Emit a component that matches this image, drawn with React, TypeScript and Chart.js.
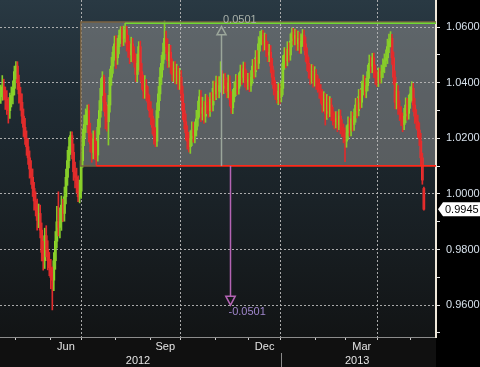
import React, { useEffect, useRef } from "react";
import { Chart, registerables } from "chart.js";

Chart.register(...registerables);

// ---- Daily OHLC data (one entry per trading day) ----
const opens = [
  1.0350,1.0365,1.0385,1.0360,1.0340,1.0325,1.0300,1.0335,1.0355,1.0380,
  1.0440,1.0460,1.0400,1.0360,1.0330,1.0280,1.0240,1.0200,1.0170,1.0130,
  1.0090,1.0060,1.0020,0.9975,0.9950,0.9905,0.9930,0.9870,0.9790,0.9760,
  0.9850,0.9800,0.9760,0.9735,0.9700,0.9690,0.9760,0.9830,0.9900,0.9880,
  0.9900,0.9960,0.9930,0.9990,1.0060,1.0120,1.0170,1.0210,1.0150,1.0080,
  1.0060,1.0040,0.9990,1.0010,1.0120,1.0200,1.0250,1.0280,1.0300,1.0220,
  1.0180,1.0150,1.0200,1.0160,1.0140,1.0240,1.0300,1.0380,1.0420,1.0330,
  1.0280,1.0260,1.0320,1.0420,1.0460,1.0510,1.0540,1.0490,1.0530,1.0570,
  1.0590,1.0560,1.0580,1.0590,1.0540,1.0520,1.0500,1.0540,1.0500,1.0480,
  1.0430,1.0470,1.0530,1.0440,1.0400,1.0370,1.0390,1.0360,1.0330,1.0300,
  1.0280,1.0240,1.0210,1.0190,1.0300,1.0360,1.0420,1.0470,1.0510,1.0560,
  1.0530,1.0480,1.0510,1.0460,1.0430,1.0450,1.0420,1.0440,1.0400,1.0420,
  1.0360,1.0300,1.0260,1.0220,1.0190,1.0170,1.0200,1.0230,1.0210,1.0230,
  1.0270,1.0300,1.0350,1.0290,1.0310,1.0280,1.0330,1.0320,1.0300,1.0340,
  1.0320,1.0380,1.0360,1.0400,1.0370,1.0390,1.0420,1.0380,1.0410,1.0390,
  1.0370,1.0400,1.0340,1.0310,1.0350,1.0380,1.0400,1.0380,1.0410,1.0440,
  1.0420,1.0450,1.0420,1.0400,1.0410,1.0390,1.0420,1.0460,1.0440,1.0490,
  1.0470,1.0540,1.0560,1.0570,1.0540,1.0550,1.0520,1.0500,1.0510,1.0460,
  1.0420,1.0380,1.0370,1.0340,1.0370,1.0350,1.0380,1.0470,1.0500,1.0480,
  1.0520,1.0500,1.0550,1.0580,1.0560,1.0570,1.0540,1.0560,1.0530,1.0550,
  1.0570,1.0540,1.0500,1.0470,1.0440,1.0420,1.0440,1.0410,1.0430,1.0400,
  1.0390,1.0370,1.0350,1.0320,1.0340,1.0290,1.0330,1.0300,1.0320,1.0290,
  1.0270,1.0260,1.0270,1.0250,1.0280,1.0240,1.0230,1.0210,1.0190,1.0220,
  1.0250,1.0230,1.0270,1.0250,1.0280,1.0320,1.0300,1.0350,1.0330,1.0380,
  1.0400,1.0370,1.0390,1.0440,1.0470,1.0460,1.0490,1.0440,1.0420,1.0410,
  1.0430,1.0420,1.0440,1.0460,1.0480,1.0490,1.0530,1.0550,1.0560,1.0490,
  1.0420,1.0330,1.0370,1.0310,1.0290,1.0270,1.0250,1.0280,1.0320,1.0290,
  1.0330,1.0360,1.0380,1.0320,1.0280,1.0260,1.0230,1.0190,1.0130,1.0020,
];

const highs = [
  1.0392,1.0426,1.0413,1.0385,1.0372,1.0347,1.0363,1.0385,1.0407,1.0460,
  1.0476,1.0476,1.0428,1.0384,1.0360,1.0306,1.0272,1.0227,1.0198,1.0155,
  1.0120,1.0090,1.0042,1.0008,0.9982,0.9964,0.9960,0.9896,0.9830,0.9877,
  0.9886,0.9832,0.9790,0.9765,0.9738,0.9789,0.9865,0.9956,1.0008,0.9950,
  0.9993,0.9982,1.0025,1.0090,1.0157,1.0204,1.0224,1.0224,1.0180,1.0115,
  1.0093,1.0065,1.0050,1.0147,1.0233,1.0284,1.0306,1.0320,1.0322,1.0255,
  1.0215,1.0227,1.0228,1.0190,1.0269,1.0336,1.0415,1.0440,1.0428,1.0362,
  1.0318,1.0355,1.0449,1.0492,1.0530,1.0568,1.0570,1.0560,1.0590,1.0602,
  1.0602,1.0604,1.0614,1.0603,1.0571,1.0550,1.0564,1.0560,1.0530,1.0505,
  1.0503,1.0548,1.0550,1.0470,1.0428,1.0426,1.0412,1.0386,1.0356,1.0332,
  1.0306,1.0270,1.0239,1.0328,1.0387,1.0455,1.0499,1.0543,1.0622,1.0586,
  1.0558,1.0538,1.0535,1.0486,1.0476,1.0476,1.0467,1.0460,1.0452,1.0444,
  1.0388,1.0326,1.0288,1.0246,1.0222,1.0227,1.0260,1.0258,1.0260,1.0301,
  1.0334,1.0374,1.0372,1.0348,1.0333,1.0359,1.0356,1.0348,1.0364,1.0366,
  1.0406,1.0406,1.0424,1.0422,1.0422,1.0476,1.0443,1.0432,1.0434,1.0418,
  1.0428,1.0425,1.0368,1.0376,1.0404,1.0430,1.0426,1.0436,1.0464,1.0464,
  1.0475,1.0473,1.0444,1.0434,1.0436,1.0444,1.0484,1.0484,1.0516,1.0516,
  1.0566,1.0585,1.0590,1.0588,1.0579,1.0574,1.0548,1.0538,1.0534,1.0488,
  1.0446,1.0408,1.0394,1.0400,1.0396,1.0406,1.0498,1.0527,1.0524,1.0548,
  1.0544,1.0576,1.0598,1.0596,1.0593,1.0590,1.0586,1.0582,1.0576,1.0592,
  1.0590,1.0564,1.0526,1.0492,1.0466,1.0466,1.0464,1.0458,1.0448,1.0426,
  1.0414,1.0394,1.0376,1.0368,1.0362,1.0358,1.0352,1.0350,1.0344,1.0312,
  1.0296,1.0296,1.0296,1.0304,1.0302,1.0268,1.0252,1.0238,1.0246,1.0278,
  1.0274,1.0296,1.0294,1.0306,1.0344,1.0344,1.0376,1.0374,1.0406,1.0428,
  1.0424,1.0416,1.0464,1.0500,1.0494,1.0506,1.0507,1.0464,1.0444,1.0454,
  1.0452,1.0464,1.0486,1.0504,1.0519,1.0557,1.0575,1.0584,1.0574,1.0511,
  1.0443,1.0398,1.0390,1.0336,1.0314,1.0292,1.0308,1.0346,1.0344,1.0356,
  1.0386,1.0404,1.0398,1.0344,1.0304,1.0284,1.0256,1.0218,1.0147,1.0025,
];

const lows = [
  1.0326,1.0337,1.0338,1.0304,1.0286,1.0255,1.0272,1.0313,1.0324,1.0356,
  1.0414,1.0376,1.0327,1.0301,1.0254,1.0207,1.0178,1.0139,1.0106,1.0057,
  1.0034,0.9991,0.9942,0.9921,0.9870,0.9879,0.9842,0.9759,0.9726,0.9732,
  0.9774,0.9727,0.9706,0.9659,0.9583,0.9652,0.9729,0.9806,0.9849,0.9842,
  0.9869,0.9901,0.9902,0.9964,1.0031,1.0094,1.0142,1.0126,1.0049,1.0022,
  1.0004,0.9972,0.9968,0.9984,1.0096,1.0174,1.0221,1.0249,1.0187,1.0151,
  1.0114,1.0126,1.0124,1.0101,1.0118,1.0214,1.0276,1.0354,1.0297,1.0234,
  1.0226,1.0176,1.0294,1.0391,1.0434,1.0481,1.0452,1.0466,1.0504,1.0541,
  1.0531,1.0534,1.0546,1.0514,1.0491,1.0469,1.0476,1.0474,1.0456,1.0404,
  1.0404,1.0446,1.0412,1.0376,1.0344,1.0344,1.0336,1.0304,1.0276,1.0249,
  1.0216,1.0179,1.0170,1.0171,1.0274,1.0336,1.0394,1.0446,1.0484,1.0506,
  1.0454,1.0456,1.0434,1.0406,1.0404,1.0396,1.0396,1.0376,1.0376,1.0336,
  1.0268,1.0234,1.0194,1.0161,1.0151,1.0146,1.0174,1.0186,1.0184,1.0208,
  1.0244,1.0276,1.0260,1.0266,1.0254,1.0258,1.0289,1.0276,1.0279,1.0296,
  1.0299,1.0336,1.0339,1.0346,1.0346,1.0366,1.0356,1.0361,1.0364,1.0346,
  1.0346,1.0316,1.0290,1.0289,1.0331,1.0354,1.0358,1.0359,1.0388,1.0394,
  1.0401,1.0384,1.0374,1.0376,1.0368,1.0369,1.0398,1.0416,1.0421,1.0446,
  1.0451,1.0514,1.0536,1.0514,1.0518,1.0494,1.0476,1.0476,1.0436,1.0394,
  1.0356,1.0340,1.0327,1.0321,1.0324,1.0331,1.0356,1.0448,1.0454,1.0461,
  1.0474,1.0481,1.0529,1.0536,1.0536,1.0516,1.0516,1.0506,1.0506,1.0531,
  1.0516,1.0476,1.0444,1.0416,1.0394,1.0398,1.0384,1.0388,1.0376,1.0366,
  1.0344,1.0326,1.0294,1.0298,1.0248,1.0268,1.0274,1.0278,1.0264,1.0248,
  1.0234,1.0238,1.0224,1.0231,1.0216,1.0206,1.0184,1.0116,1.0168,1.0196,
  1.0208,1.0209,1.0226,1.0229,1.0258,1.0274,1.0281,1.0306,1.0311,1.0356,
  1.0348,1.0346,1.0371,1.0416,1.0436,1.0436,1.0418,1.0394,1.0386,1.0386,
  1.0398,1.0399,1.0418,1.0436,1.0458,1.0469,1.0508,1.0529,1.0466,1.0394,
  1.0306,1.0306,1.0286,1.0264,1.0246,1.0224,1.0231,1.0256,1.0266,1.0269,
  1.0308,1.0336,1.0296,1.0254,1.0236,1.0204,1.0174,1.0104,1.0035,0.9942,
];

const closes = [
  1.0365,1.0385,1.0360,1.0340,1.0325,1.0300,1.0335,1.0355,1.0380,1.0440,
  1.0460,1.0400,1.0360,1.0330,1.0280,1.0240,1.0200,1.0170,1.0130,1.0090,
  1.0060,1.0020,0.9975,0.9950,0.9905,0.9930,0.9870,0.9790,0.9760,0.9850,
  0.9800,0.9760,0.9735,0.9700,0.9690,0.9760,0.9830,0.9900,0.9880,0.9900,
  0.9960,0.9930,0.9990,1.0060,1.0120,1.0170,1.0210,1.0150,1.0080,1.0060,
  1.0040,0.9990,1.0010,1.0120,1.0200,1.0250,1.0280,1.0300,1.0220,1.0180,
  1.0150,1.0200,1.0160,1.0140,1.0240,1.0300,1.0380,1.0420,1.0330,1.0280,
  1.0260,1.0320,1.0420,1.0460,1.0510,1.0540,1.0490,1.0530,1.0570,1.0590,
  1.0560,1.0580,1.0590,1.0540,1.0520,1.0500,1.0540,1.0500,1.0480,1.0430,
  1.0470,1.0530,1.0440,1.0400,1.0370,1.0390,1.0360,1.0330,1.0300,1.0280,
  1.0240,1.0210,1.0190,1.0300,1.0360,1.0420,1.0470,1.0510,1.0560,1.0530,
  1.0480,1.0510,1.0460,1.0430,1.0450,1.0420,1.0440,1.0400,1.0420,1.0360,
  1.0300,1.0260,1.0220,1.0190,1.0170,1.0200,1.0230,1.0210,1.0230,1.0270,
  1.0300,1.0350,1.0290,1.0310,1.0280,1.0330,1.0320,1.0300,1.0340,1.0320,
  1.0380,1.0360,1.0400,1.0370,1.0390,1.0420,1.0380,1.0410,1.0390,1.0370,
  1.0400,1.0340,1.0310,1.0350,1.0380,1.0400,1.0380,1.0410,1.0440,1.0420,
  1.0450,1.0420,1.0400,1.0410,1.0390,1.0420,1.0460,1.0440,1.0490,1.0470,
  1.0540,1.0560,1.0570,1.0540,1.0550,1.0520,1.0500,1.0510,1.0460,1.0420,
  1.0380,1.0370,1.0340,1.0370,1.0350,1.0380,1.0470,1.0500,1.0480,1.0520,
  1.0500,1.0550,1.0580,1.0560,1.0570,1.0540,1.0560,1.0530,1.0550,1.0570,
  1.0540,1.0500,1.0470,1.0440,1.0420,1.0440,1.0410,1.0430,1.0400,1.0390,
  1.0370,1.0350,1.0320,1.0340,1.0290,1.0330,1.0300,1.0320,1.0290,1.0270,
  1.0260,1.0270,1.0250,1.0280,1.0240,1.0230,1.0210,1.0190,1.0220,1.0250,
  1.0230,1.0270,1.0250,1.0280,1.0320,1.0300,1.0350,1.0330,1.0380,1.0400,
  1.0370,1.0390,1.0440,1.0470,1.0460,1.0490,1.0440,1.0420,1.0410,1.0430,
  1.0420,1.0440,1.0460,1.0480,1.0490,1.0530,1.0550,1.0560,1.0490,1.0420,
  1.0330,1.0370,1.0310,1.0290,1.0270,1.0250,1.0280,1.0320,1.0290,1.0330,
  1.0360,1.0380,1.0320,1.0280,1.0260,1.0230,1.0200,1.0130,1.0050,0.9945,
];

// ---- Axis definitions (trading-day index space) ----
const monthBoundaries = [9.5, 32.5, 53.5, 75.5, 98.5, 118.5, 141.5, 163.5, 184.5, 207.5, 227.5, 248.5, 270.5];
const quarterBoundaries = [53.5, 118.5, 184.5, 248.5];
const monthLabels = ["Jun", "Sep", "Dec", "Mar"];
const monthLabelPos = [43, 108.5, 174, 238];
const yearLabels = ["2012", "2013"];
const yearLabelPos = [90.5, 235];
const yearBoundary = 184.5;
const yMajorTicks = [0.96, 0.98, 1.0, 1.02, 1.04, 1.06];
const yMinorTicks = [0.95, 0.97, 0.99, 1.01, 1.03, 1.05];

// ---- Annotations ----
const supportIndex = 63;
const supportLevel = 1.0101;
const resistanceIndex = 82;
const resistanceLevel = 1.0614;
const boxTop = 1.0619;
const boxStartIndex = 52.8;
const measureUpIndex = 145.4;
const measureUpTarget = 1.0602;
const measureUpLabel = "0.0501";
const measureDownIndex = 151;
const measureDownTarget = 0.96;
const measureDownLabel = "-0.0501";
const lastPrice = 0.9945;
const lastPriceLabel = "0.9945";

const GREEN = "#9be82c";
const RED = "#ff3030";
const GREEN_WICK = "#86cc2a";
const RED_WICK = "#e02c2c";
const GRID = "rgba(185,185,185,0.9)";
const NONE = "rgba(0,0,0,0)";
const FONT = "'Liberation Sans', Arial, sans-serif";

const decorPlugin = {
  id: "decor",
  beforeDraw(chart: any) {
    const { ctx, chartArea: a, width, height } = chart;
    const xs = chart.scales.x;
    const ys = chart.scales.y;
    ctx.save();
    ctx.fillStyle = "#000000";
    ctx.fillRect(a.right, 0, width - a.right, height);
    ctx.fillStyle = "#101010";
    ctx.fillRect(0, a.bottom, a.right, height - a.bottom);
    const g = ctx.createLinearGradient(0, a.top, 0, a.bottom);
    g.addColorStop(0, "#293943");
    g.addColorStop(0.3, "#1f2b33");
    g.addColorStop(0.6, "#1a2227");
    g.addColorStop(1, "#121415");
    ctx.fillStyle = g;
    ctx.fillRect(a.left, a.top, a.right - a.left, a.bottom - a.top);
    const bx = xs.getPixelForValue(boxStartIndex);
    const bt = ys.getPixelForValue(boxTop);
    const bb = ys.getPixelForValue(supportLevel);
    ctx.fillStyle = "rgba(140,140,140,0.55)";
    ctx.fillRect(bx, bt, a.right - bx, bb - bt);
    ctx.restore();
  },
  afterDatasetsDraw(chart: any) {
    const { ctx, chartArea: a } = chart;
    const xs = chart.scales.x;
    const ys = chart.scales.y;
    const bx = xs.getPixelForValue(boxStartIndex);
    const bt = ys.getPixelForValue(boxTop);
    const bb = ys.getPixelForValue(supportLevel);
    const sx = xs.getPixelForValue(supportIndex);
    const rx = xs.getPixelForValue(resistanceIndex);
    const ry = ys.getPixelForValue(resistanceLevel);
    ctx.save();
    ctx.strokeStyle = "#7a6240";
    ctx.lineWidth = 1.5;
    ctx.beginPath();
    ctx.moveTo(a.right, bt);
    ctx.lineTo(bx, bt);
    ctx.lineTo(bx, bb);
    ctx.lineTo(sx, bb);
    ctx.stroke();
    ctx.strokeStyle = "#72d832";
    ctx.lineWidth = 1.5;
    ctx.beginPath();
    ctx.moveTo(rx, ry);
    ctx.lineTo(a.right, ry);
    ctx.stroke();
    ctx.strokeStyle = "#ff2a1a";
    ctx.lineWidth = 1.8;
    ctx.beginPath();
    ctx.moveTo(sx, bb);
    ctx.lineTo(a.right, bb);
    ctx.stroke();

    const ux = Math.round(xs.getPixelForValue(measureUpIndex)) + 0.5;
    const uy = ys.getPixelForValue(measureUpTarget);
    ctx.strokeStyle = "#9ba69b";
    ctx.lineWidth = 1.5;
    ctx.beginPath();
    ctx.moveTo(ux, bb);
    ctx.lineTo(ux, uy + 8);
    ctx.stroke();
    ctx.beginPath();
    ctx.moveTo(ux, uy);
    ctx.lineTo(ux - 4.5, uy + 8);
    ctx.lineTo(ux + 4.5, uy + 8);
    ctx.closePath();
    ctx.stroke();
    ctx.font = `11px ${FONT}`;
    ctx.fillStyle = "#a8b0a8";
    ctx.textAlign = "left";
    ctx.textBaseline = "middle";
    ctx.fillText(measureUpLabel, ux + 1.5, uy - 7);

    const dx = Math.round(xs.getPixelForValue(measureDownIndex)) + 0.5;
    const dy = ys.getPixelForValue(measureDownTarget);
    ctx.strokeStyle = "#b464b4";
    ctx.lineWidth = 1.5;
    ctx.beginPath();
    ctx.moveTo(dx, bb);
    ctx.lineTo(dx, dy - 9);
    ctx.stroke();
    ctx.beginPath();
    ctx.moveTo(dx, dy);
    ctx.lineTo(dx - 4.7, dy - 9);
    ctx.lineTo(dx + 4.7, dy - 9);
    ctx.closePath();
    ctx.stroke();
    ctx.fillStyle = "#a086cc";
    ctx.fillText(measureDownLabel, dx - 2, dy + 7);
    ctx.restore();
  },
  afterDraw(chart: any) {
    const { ctx, chartArea: a, width, height } = chart;
    const xs = chart.scales.x;
    const ys = chart.scales.y;
    ctx.save();
    const sepX = Math.round(xs.getPixelForValue(yearBoundary)) + 0.5;
    ctx.strokeStyle = "#8a8a8a";
    ctx.lineWidth = 1;
    ctx.beginPath();
    ctx.moveTo(sepX, a.bottom + 16);
    ctx.lineTo(sepX, height);
    ctx.stroke();
    const py = ys.getPixelForValue(lastPrice);
    const lx = a.right + 2;
    ctx.fillStyle = "#ffffff";
    ctx.beginPath();
    ctx.moveTo(lx, py);
    ctx.lineTo(lx + 5, py - 7);
    ctx.lineTo(width, py - 7);
    ctx.lineTo(width, py + 7);
    ctx.lineTo(lx + 5, py + 7);
    ctx.closePath();
    ctx.fill();
    ctx.fillStyle = "#000000";
    ctx.font = `11px ${FONT}`;
    ctx.textAlign = "left";
    ctx.textBaseline = "middle";
    ctx.fillText(lastPriceLabel, lx + 7, py + 0.5);
    ctx.restore();
  },
};

export default function App() {
  const canvasRef = useRef<HTMLCanvasElement | null>(null);

  useEffect(() => {
    const canvas = canvasRef.current;
    if (!canvas) return;
    const idx = closes.map((_, i) => i);
    const up = idx.map((i) => closes[i] >= opens[i]);
    const bodyColors = up.map((u) => (u ? GREEN : RED));
    const wickColors = up.map((u) => (u ? GREEN_WICK : RED_WICK));
    const allYTicks = [...yMinorTicks, ...yMajorTicks].sort((a, b) => a - b);
    const xTicks = [...monthBoundaries, ...monthLabelPos].sort((a, b) => a - b);
    const xGridColors = xTicks.map((v) => (quarterBoundaries.includes(v) ? GRID : NONE));
    const xTickColors = xTicks.map((v) => (monthBoundaries.includes(v) ? "#cccccc" : NONE));
    const yGridColors = allYTicks.map((v) => (yMajorTicks.includes(v) ? GRID : NONE));

    const chart = new Chart(canvas, {
      type: "bar",
      data: {
        datasets: [
          {
            label: "wicks",
            data: idx.map((i) => ({ x: i, y: [lows[i], highs[i]] })) as any,
            backgroundColor: wickColors,
            barThickness: 1,
            grouped: false,
            borderWidth: 0,
            minBarLength: 1,
          },
          {
            label: "bodies",
            data: idx.map((i) => ({ x: i, y: [opens[i], closes[i]] })) as any,
            backgroundColor: bodyColors,
            barThickness: 2,
            grouped: false,
            borderWidth: 0,
            minBarLength: 1,
          },
        ],
      },
      options: {
        animation: false,
        responsive: false,
        maintainAspectRatio: false,
        devicePixelRatio: 1,
        events: [],
        layout: { padding: 0, autoPadding: false },
        plugins: { legend: { display: false }, tooltip: { enabled: false }, title: { display: false } },
        scales: {
          x: {
            type: "linear",
            position: "bottom",
            min: -0.5,
            max: 287,
            offset: false,
            weight: 0,
            afterBuildTicks: (s: any) => {
              s.ticks = xTicks.map((v) => ({ value: v }));
            },
            afterFit: (s: any) => {
              s.height = 15;
              s.paddingLeft = 0;
              s.paddingRight = 0;
            },
            ticks: {
              autoSkip: false,
              maxRotation: 0,
              minRotation: 0,
              padding: 0,
              color: "#e4e4e4",
              font: { family: FONT, size: 11 },
              callback: (v: any) => {
                const k = monthLabelPos.indexOf(v);
                return k >= 0 ? monthLabels[k] : "";
              },
            },
            grid: {
              display: true,
              offset: false,
              drawOnChartArea: true,
              drawTicks: true,
              color: xGridColors,
              lineWidth: 1,
              tickLength: 3,
              tickWidth: 1,
              tickColor: xTickColors,
              tickBorderDash: [],
            },
            border: { display: true, color: "#8c8c8c", width: 1, dash: [2, 2] },
          },
          xYear: {
            type: "linear",
            position: "bottom",
            min: -0.5,
            max: 287,
            offset: false,
            weight: 1,
            afterBuildTicks: (s: any) => {
              s.ticks = yearLabelPos.map((v) => ({ value: v }));
            },
            afterFit: (s: any) => {
              s.height = 15;
              s.paddingLeft = 0;
              s.paddingRight = 0;
            },
            ticks: {
              autoSkip: false,
              maxRotation: 0,
              minRotation: 0,
              padding: 2,
              color: "#e4e4e4",
              font: { family: FONT, size: 11 },
              callback: (v: any) => {
                const k = yearLabelPos.indexOf(v);
                return k >= 0 ? yearLabels[k] : "";
              },
            },
            grid: { display: false, drawTicks: false, offset: false },
            border: { display: false },
          },
          y: {
            type: "linear",
            position: "right",
            min: 0.94856,
            max: 1.06978,
            afterBuildTicks: (s: any) => {
              s.ticks = allYTicks.map((v) => ({ value: v }));
            },
            afterFit: (s: any) => {
              s.width = 44;
              s.paddingTop = 0;
              s.paddingBottom = 0;
            },
            ticks: {
              autoSkip: false,
              padding: 6,
              color: "#d6e0ea",
              font: { family: FONT, size: 11 },
              callback: (v: any) => (yMajorTicks.includes(v) ? Number(v).toFixed(4) : ""),
            },
            grid: {
              display: true,
              offset: false,
              drawOnChartArea: true,
              drawTicks: true,
              color: yGridColors,
              lineWidth: 1,
              tickLength: 4,
              tickWidth: 1,
              tickColor: "#e6e6e6",
              tickBorderDash: [],
            },
            border: { display: true, color: "#efe8da", width: 2, dash: [2, 2] },
          },
        },
      } as any,
      plugins: [decorPlugin],
    });

    return () => chart.destroy();
  }, []);

  return (
    <div style={{ position: "absolute", left: 0, top: 0, width: 480, height: 367 }}>
      <canvas ref={canvasRef} width={480} height={367} style={{ display: "block", width: 480, height: 367 }} />
    </div>
  );
}
